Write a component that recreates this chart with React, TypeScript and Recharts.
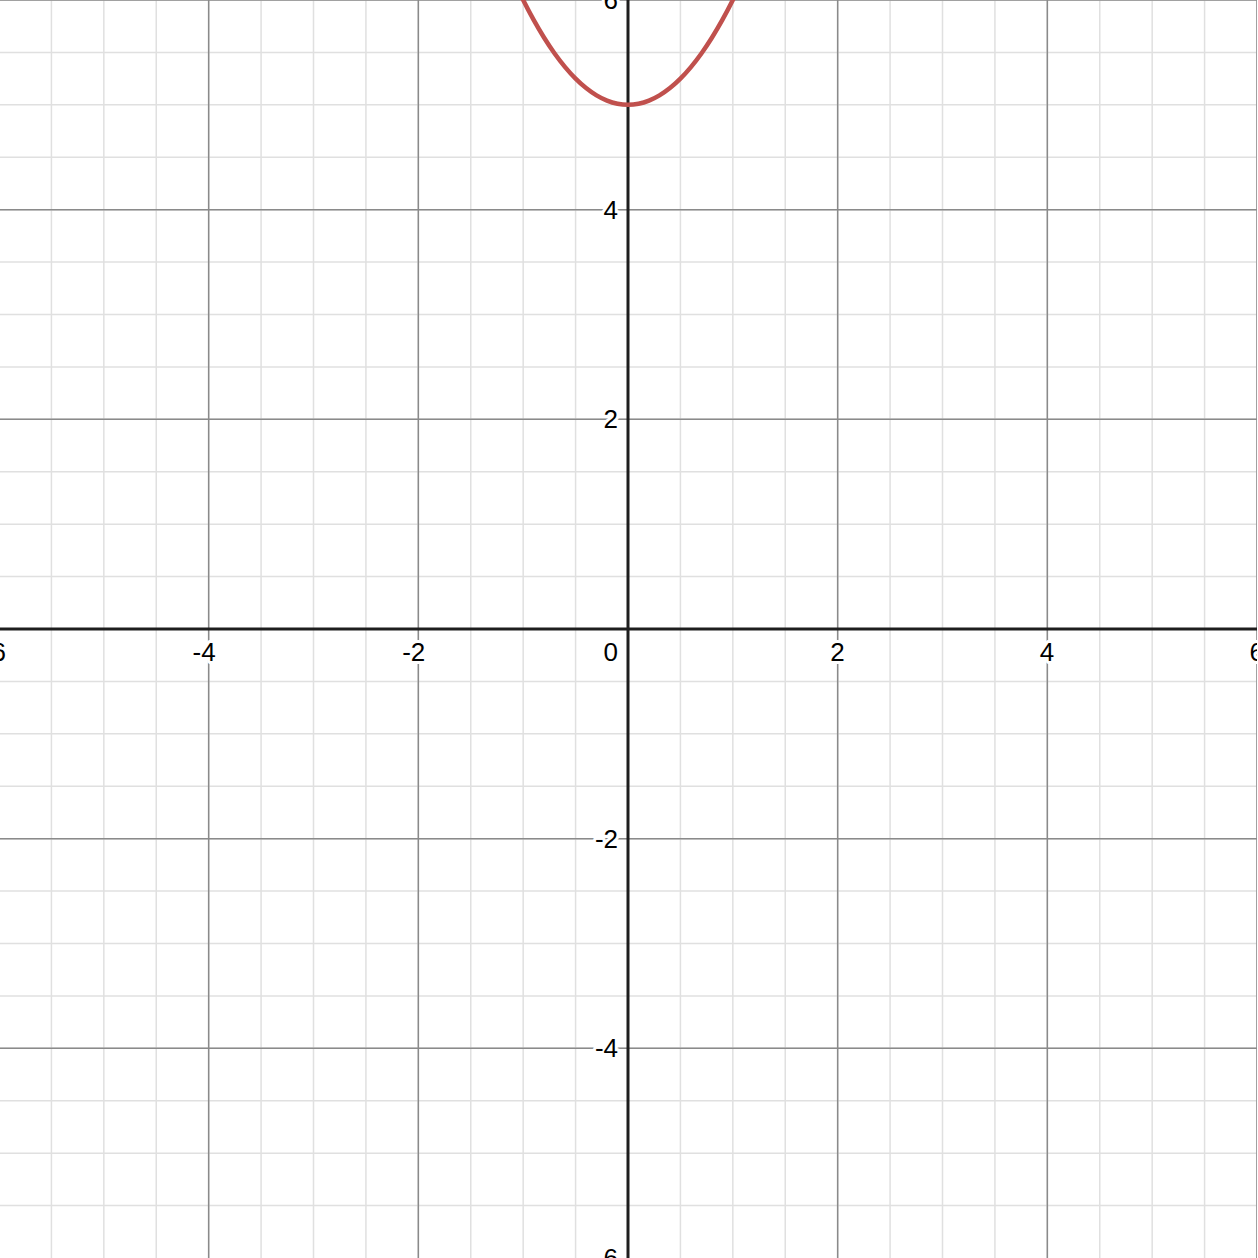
import { LineChart, Line, XAxis, YAxis, CartesianGrid, ReferenceLine, ReferenceDot } from "recharts";

// grid values (graph units)
const minorTicks = [-6, -5.5, -5, -4.5, -4, -3.5, -3, -2.5, -2, -1.5, -1, -0.5, 0, 0.5, 1, 1.5, 2, 2.5, 3, 3.5, 4, 4.5, 5, 5.5, 6];
const majorTicks = [-6, -4, -2, 0, 2, 4, 6];
const xLabels = [-6, -4, -2, 2, 4, 6];
const yLabels = [-6, -4, -2, 2, 4, 6];

// points
const curveX = [-1.2, -1.1, -1, -0.9, -0.8, -0.7, -0.6, -0.5, -0.4, -0.3, -0.2, -0.1, 0, 0.1, 0.2, 0.3, 0.4, 0.5, 0.6, 0.7, 0.8, 0.9, 1, 1.1, 1.2];
const curveY = [6.44, 6.21, 6, 5.81, 5.64, 5.49, 5.36, 5.25, 5.16, 5.09, 5.04, 5.01, 5, 5.01, 5.04, 5.09, 5.16, 5.25, 5.36, 5.49, 5.64, 5.81, 6, 6.21, 6.44];

const data = curveX.map((x, i) => ({ x, y: curveY[i] }));

const FONT = "'Liberation Sans', Arial, sans-serif";
const SIZE = 1258;

const labelStyle = {
  fontFamily: FONT,
  fontSize: 26,
  fill: "#000",
  stroke: "#fff",
  strokeWidth: 6,
  paintOrder: "stroke" as const,
  strokeLinejoin: "round" as const,
};

export default function App() {
  return (
    <div style={{ position: "absolute", top: 0, left: -1, width: SIZE + 1, height: SIZE, background: "#fff", overflow: "hidden" }}>
      <LineChart width={SIZE} height={SIZE} data={data} margin={{ top: 0, right: 0, bottom: 0, left: 0 }}>
        <XAxis type="number" dataKey="x" domain={[-6, 6]} hide allowDataOverflow />
        <YAxis type="number" domain={[-6, 6]} hide allowDataOverflow />
        <CartesianGrid
          horizontalValues={minorTicks}
          verticalValues={minorTicks}
          stroke="#e0e0e0"
          strokeWidth={1.5}
        />
        <CartesianGrid
          horizontalValues={majorTicks}
          verticalValues={majorTicks}
          stroke="#8a8a8a"
          strokeWidth={1.5}
        />
        <ReferenceLine x={0} stroke="#1e1e1e" strokeWidth={3} />
        <ReferenceLine y={0} stroke="#1e1e1e" strokeWidth={3} />
        {xLabels.map((v) => (
          <ReferenceDot
            key={"x" + v}
            x={v}
            y={0}
            r={0}
            ifOverflow="visible"
            shape={(p: any) => (
              <text x={p.cx + 7} y={p.cy + 32} textAnchor="end" style={labelStyle}>
                {v < 0 ? "-" + Math.abs(v) : String(v)}
              </text>
            )}
          />
        ))}
        {yLabels.map((v) => (
          <ReferenceDot
            key={"y" + v}
            x={0}
            y={v}
            r={0}
            ifOverflow="visible"
            shape={(p: any) => (
              <text x={p.cx - 10} y={p.cy + 9} textAnchor="end" style={labelStyle}>
                {v < 0 ? "-" + Math.abs(v) : String(v)}
              </text>
            )}
          />
        ))}
        <ReferenceDot
          x={0}
          y={0}
          r={0}
          ifOverflow="visible"
          shape={(p: any) => (
            <text x={p.cx - 10} y={p.cy + 32} textAnchor="end" style={labelStyle}>
              0
            </text>
          )}
        />
        <Line
          type="monotone"
          dataKey="y"
          stroke="#c0504d"
          strokeWidth={4.5}
          dot={false}
          isAnimationActive={false}
        />
      </LineChart>
    </div>
  );
}
